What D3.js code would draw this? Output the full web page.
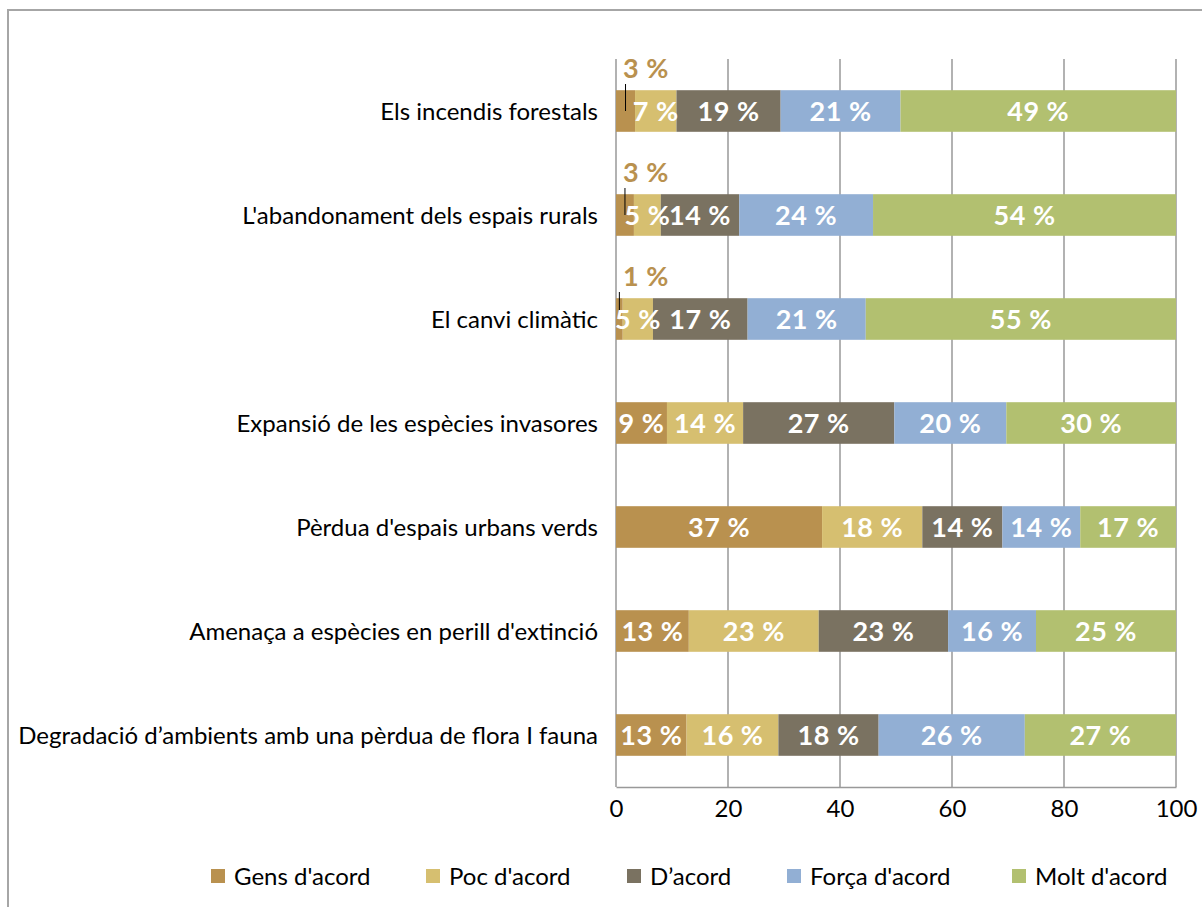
<!DOCTYPE html>
<html>
<head>
<meta charset="utf-8">
<script src="https://cdn.jsdelivr.net/npm/d3@7"></script>
<style>
  html, body { margin: 0; padding: 0; background: #fff; }
  svg { display: block; font-family: Lato, "Open Sans", sans-serif; }
</style>
</head>
<body>
<svg id="chart" width="1202" height="907"></svg>
<script>
// Survey statements (top to bottom)
const categories = [
  "Els incendis forestals",
  "L'abandonament dels espais rurals",
  "El canvi climàtic",
  "Expansió de les espècies invasores",
  "Pèrdua d'espais urbans verds",
  "Amenaça a espècies en perill d'extinció",
  "Degradació d’ambients amb una pèrdua de flora I fauna"
];

// Response levels
const seriesNames = ["Gens d'acord", "Poc d'acord", "D’acord", "Força d'acord", "Molt d'acord"];

// Percentages per response level, one entry per statement
const gensAcord  = [3.4, 3.2, 1.2, 9.1, 36.8, 13.0, 12.6];
const pocAcord   = [7.4, 4.8, 5.4, 13.6, 17.9, 23.2, 16.4];
const dAcord     = [18.6, 14.0, 16.9, 27.0, 14.3, 23.1, 17.9];
const forcaAcord = [21.4, 23.9, 21.1, 20.0, 13.9, 15.7, 26.1];
const moltAcord  = [49.2, 54.1, 55.4, 30.3, 17.1, 25.0, 27.0];

const xTicks = [0, 20, 40, 60, 80, 100];

const colors = ["#B9914F", "#D6BF70", "#7A7261", "#92AFD4", "#B2C070"];

const seriesValues = [gensAcord, pocAcord, dAcord, forcaAcord, moltAcord];
const rows = categories.map((c, i) => {
  const r = { category: c };
  seriesNames.forEach((s, j) => { r[s] = seriesValues[j][i]; });
  return r;
});

const svg = d3.select("#chart");

// outer frame
svg.append("rect")
  .attr("x", 8).attr("y", 10)
  .attr("width", 1220).attr("height", 920)
  .attr("fill", "none")
  .attr("stroke", "#a6a6a6")
  .attr("stroke-width", 2);

const x = d3.scaleLinear().domain([0, 100]).range([616, 1176]);
const y = d3.scaleBand().domain(categories).range([59, 787])
  .paddingInner(0.6).paddingOuter(0.3);

// vertical gridlines
svg.append("g")
  .selectAll("line")
  .data(xTicks)
  .join("line")
  .attr("x1", d => x(d)).attr("x2", d => x(d))
  .attr("y1", 59).attr("y2", 787)
  .attr("stroke", "#999")
  .attr("stroke-width", 1.5);

// bottom axis
const xAxis = svg.append("g")
  .attr("transform", "translate(0,787)")
  .call(d3.axisBottom(x).tickValues(xTicks).tickSize(0).tickPadding(13).tickFormat(d3.format("d")));
xAxis.select(".domain").attr("stroke", "#999").attr("stroke-width", 1.5);
xAxis.selectAll("text")
  .attr("font-family", "Lato, sans-serif")
  .attr("font-size", 24)
  .attr("fill", "#000");

// category axis labels
svg.append("g")
  .selectAll("text")
  .data(categories)
  .join("text")
  .attr("x", 598)
  .attr("y", d => y(d) + y.bandwidth() / 2)
  .attr("dy", "0.36em")
  .attr("text-anchor", "end")
  .attr("font-size", 24)
  .attr("fill", "#000")
  .text(d => d);

const stack = d3.stack().keys(seriesNames);
const stacked = stack(rows);

// bars
const layers = svg.append("g")
  .selectAll("g")
  .data(stacked)
  .join("g")
  .attr("fill", (d, i) => colors[i]);

layers.selectAll("rect")
  .data(d => d)
  .join("rect")
  .attr("x", d => x(d[0]))
  .attr("width", d => x(d[1]) - x(d[0]))
  .attr("y", d => y(d.data.category))
  .attr("height", y.bandwidth());

// value labels
const fmt = v => Math.round(v) + " %";
const labels = svg.append("g")
  .attr("font-weight", 700)
  .attr("font-size", 27)
  .attr("letter-spacing", 0.5);

stacked.forEach((layer, i) => {
  layer.forEach(d => {
    const v = d[1] - d[0];
    const cy = y(d.data.category) + y.bandwidth() / 2;
    const mid = x((d[0] + d[1]) / 2);
    if (v < 4) {
      // small segment: label above the bar with a leader line
      labels.append("line")
        .attr("x1", mid).attr("x2", mid)
        .attr("y1", cy - 27).attr("y2", cy)
        .attr("stroke", "#000").attr("stroke-width", 1);
      labels.append("text")
        .attr("x", 646)
        .attr("y", cy - 43)
        .attr("dy", "0.36em")
        .attr("text-anchor", "middle")
        .attr("fill", colors[i])
        .text(fmt(v));
    } else {
      labels.append("text")
        .attr("x", mid)
        .attr("y", cy)
        .attr("dy", "0.36em")
        .attr("text-anchor", "middle")
        .attr("fill", "#fff")
        .text(fmt(v));
    }
  });
});

// legend
const legendX = [211, 426, 627, 787, 1012];
const legend = svg.append("g")
  .selectAll("g")
  .data(seriesNames)
  .join("g")
  .attr("transform", (d, i) => `translate(${legendX[i]},876)`);
legend.append("rect")
  .attr("x", 0).attr("y", -7)
  .attr("width", 14).attr("height", 14)
  .attr("fill", (d, i) => colors[i]);
legend.append("text")
  .attr("x", 23)
  .attr("y", 0)
  .attr("dy", "0.36em")
  .attr("font-size", 24)
  .attr("fill", "#000")
  .text(d => d);
</script>
</body>
</html>
